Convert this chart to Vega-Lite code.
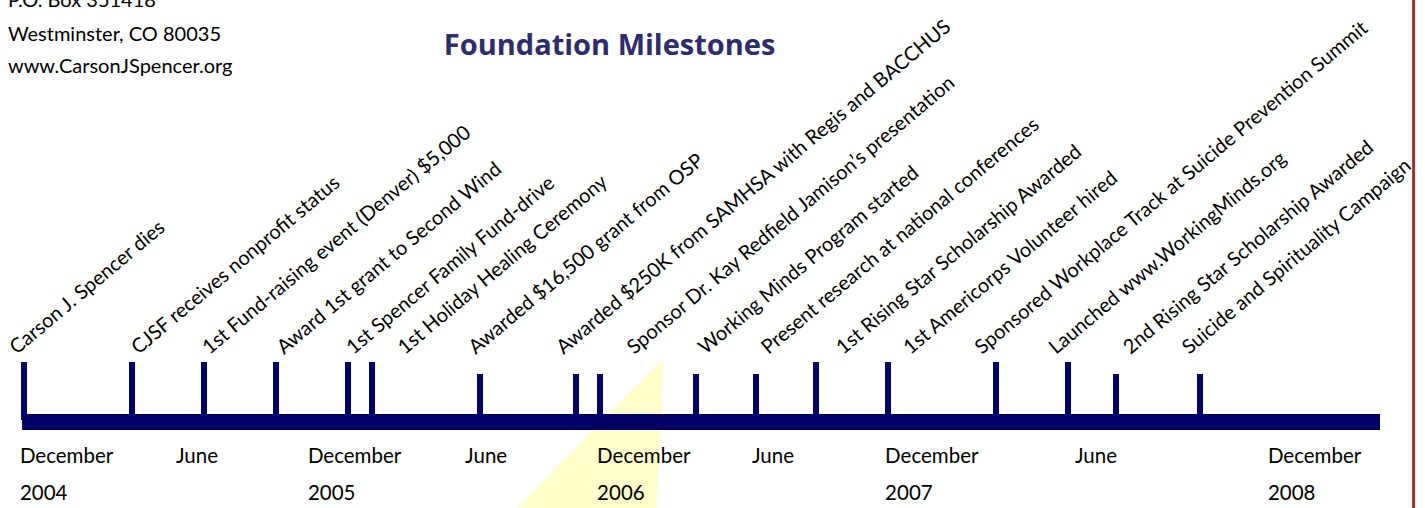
{
  "$schema": "https://vega.github.io/schema/vega-lite/v6.json",
  "width": 1425,
  "height": 508,
  "autosize": {"type": "none"},
  "padding": 0,
  "background": "white",
  "config": {"view": {"stroke": null}, "text": {"font": "Lato", "color": "#000000"}},
  "datasets": {
    "milestones": [
      {"m": 0, "labelMonth": -0.3, "label": "Carson J. Spencer dies", "tier": "tall"},
      {"m": 4.5, "labelMonth": 4.77, "label": "CJSF receives nonprofit status", "tier": "tall"},
      {"m": 7.5, "labelMonth": 7.73, "label": "1st Fund-raising event (Denver)  $5,000", "tier": "tall"},
      {"m": 10.5, "labelMonth": 10.83, "label": "Award 1st grant to Second Wind", "tier": "tall"},
      {"m": 13.5, "labelMonth": 13.73, "label": "1st Spencer Family Fund-drive", "tier": "tall"},
      {"m": 14.5, "labelMonth": 15.87, "label": "1st Holiday Healing Ceremony", "tier": "tall"},
      {"m": 19, "labelMonth": 18.82, "label": "Awarded $16,500 grant from OSP", "tier": "short"},
      {"m": 23, "labelMonth": 22.48, "label": "Awarded $250K from SAMHSA with Regis and BACCHUS", "tier": "short"},
      {"m": 24, "labelMonth": 25.43, "label": "Sponsor Dr. Kay Redfield Jamison’s presentation", "tier": "short"},
      {"m": 28, "labelMonth": 28.4, "label": "Working Minds Program started", "tier": "short"},
      {"m": 30.5, "labelMonth": 31.02, "label": "Present research at national conferences", "tier": "short"},
      {"m": 33, "labelMonth": 34.14, "label": "1st Rising Star Scholarship Awarded", "tier": "tall"},
      {"m": 36, "labelMonth": 36.94, "label": "1st Americorps Volunteer hired", "tier": "tall"},
      {"m": 40.5, "labelMonth": 39.92, "label": "Sponsored Workplace Track at  Suicide Prevention Summit", "tier": "tall"},
      {"m": 43.5, "labelMonth": 43.0, "label": "Launched www.WorkingMinds.org", "tier": "tall"},
      {"m": 45.5, "labelMonth": 46.1, "label": "2nd Rising Star Scholarship Awarded", "tier": "short"},
      {"m": 49, "labelMonth": 48.55, "label": "Suicide and Spirituality Campaign", "tier": "short"}
    ],
    "axisLabels": [
      {"p": -0.17, "mon": "December", "yr": "2004"},
      {"p": 6.33, "mon": "June", "yr": ""},
      {"p": 11.83, "mon": "December", "yr": "2005"},
      {"p": 18.38, "mon": "June", "yr": ""},
      {"p": 23.88, "mon": "December", "yr": "2006"},
      {"p": 30.33, "mon": "June", "yr": ""},
      {"p": 35.88, "mon": "December", "yr": "2007"},
      {"p": 43.79, "mon": "June", "yr": ""},
      {"p": 51.83, "mon": "December", "yr": "2008"}
    ],
    "beam": [
      {"y": 51, "xl": 26.45, "xr": 26.65},
      {"y": -94, "xl": 20.55, "xr": 26.35}
    ]
  },
  "layer": [
    {
      "data": {"name": "beam"},
      "mark": {"type": "area", "orient": "horizontal", "color": "#ffffcc"},
      "encoding": {
        "y": {"field": "y", "type": "quantitative", "scale": {"domain": [-94, 414], "nice": false, "zero": false}, "axis": null},
        "x": {"field": "xl", "type": "quantitative", "scale": {"domain": [-1, 58.375], "nice": false, "zero": false}, "axis": null},
        "x2": {"field": "xr"}
      }
    },
    {
      "data": {"values": [{}]},
      "mark": {"type": "rect", "color": "#000066"},
      "encoding": {
        "x": {"datum": -0.08, "type": "quantitative", "scale": {"domain": [-1, 58.375], "nice": false, "zero": false}, "axis": null},
        "x2": {"datum": 56.5},
        "y": {"datum": 0, "type": "quantitative", "scale": {"domain": [-94, 414], "nice": false, "zero": false}, "axis": null},
        "y2": {"datum": -16}
      }
    },
    {
      "data": {"name": "milestones"},
      "transform": [{"filter": "datum.tier === 'tall'"}],
      "mark": {"type": "rule", "color": "#000066", "strokeWidth": 6},
      "encoding": {
        "x": {"field": "m", "type": "quantitative", "scale": {"domain": [-1, 58.375], "nice": false, "zero": false}, "axis": null},
        "y": {"datum": 52, "type": "quantitative", "scale": {"domain": [-94, 414], "nice": false, "zero": false}, "axis": null},
        "y2": {"datum": -6}
      }
    },
    {
      "data": {"name": "milestones"},
      "transform": [{"filter": "datum.tier === 'short'"}],
      "mark": {"type": "rule", "color": "#000066", "strokeWidth": 6},
      "encoding": {
        "x": {"field": "m", "type": "quantitative", "scale": {"domain": [-1, 58.375], "nice": false, "zero": false}, "axis": null},
        "y": {"datum": 40, "type": "quantitative", "scale": {"domain": [-94, 414], "nice": false, "zero": false}, "axis": null},
        "y2": {"datum": -6}
      }
    },
    {
      "data": {"name": "milestones"},
      "mark": {"type": "text", "align": "left", "baseline": "alphabetic", "angle": -40, "fontSize": 20},
      "encoding": {
        "x": {"field": "labelMonth", "type": "quantitative", "scale": {"domain": [-1, 58.375], "nice": false, "zero": false}, "axis": null},
        "y": {"datum": 59, "type": "quantitative", "scale": {"domain": [-94, 414], "nice": false, "zero": false}, "axis": null},
        "text": {"field": "label"}
      }
    },
    {
      "data": {"name": "axisLabels"},
      "mark": {"type": "text", "align": "left", "baseline": "alphabetic", "fontSize": 20.5},
      "encoding": {
        "x": {"field": "p", "type": "quantitative", "scale": {"domain": [-1, 58.375], "nice": false, "zero": false}, "axis": null},
        "y": {"datum": -49, "type": "quantitative", "scale": {"domain": [-94, 414], "nice": false, "zero": false}, "axis": null},
        "text": {"field": "mon"}
      }
    },
    {
      "data": {"name": "axisLabels"},
      "mark": {"type": "text", "align": "left", "baseline": "alphabetic", "fontSize": 20.5},
      "encoding": {
        "x": {"field": "p", "type": "quantitative", "scale": {"domain": [-1, 58.375], "nice": false, "zero": false}, "axis": null},
        "y": {"datum": -86, "type": "quantitative", "scale": {"domain": [-94, 414], "nice": false, "zero": false}, "axis": null},
        "text": {"field": "yr"}
      }
    },
    {
      "data": {"values": [{}]},
      "mark": {"type": "text", "align": "center", "baseline": "alphabetic", "fontSize": 29, "fontWeight": "bold", "font": "Open Sans", "color": "#2d2d6e"},
      "encoding": {
        "x": {"datum": 24.4, "type": "quantitative", "scale": {"domain": [-1, 58.375], "nice": false, "zero": false}, "axis": null},
        "y": {"datum": 359, "type": "quantitative", "scale": {"domain": [-94, 414], "nice": false, "zero": false}, "axis": null},
        "text": {"value": "Foundation Milestones"}
      }
    },
    {
      "data": {"values": [{}]},
      "mark": {"type": "text", "align": "left", "baseline": "alphabetic", "fontSize": 20},
      "encoding": {
        "x": {"datum": -0.67, "type": "quantitative", "scale": {"domain": [-1, 58.375], "nice": false, "zero": false}, "axis": null},
        "y": {"datum": 407, "type": "quantitative", "scale": {"domain": [-94, 414], "nice": false, "zero": false}, "axis": null},
        "text": {"value": "P.O. Box 351418"}
      }
    },
    {
      "data": {"values": [{}]},
      "mark": {"type": "text", "align": "left", "baseline": "alphabetic", "fontSize": 20},
      "encoding": {
        "x": {"datum": -0.67, "type": "quantitative", "scale": {"domain": [-1, 58.375], "nice": false, "zero": false}, "axis": null},
        "y": {"datum": 373.5, "type": "quantitative", "scale": {"domain": [-94, 414], "nice": false, "zero": false}, "axis": null},
        "text": {"value": "Westminster, CO 80035"}
      }
    },
    {
      "data": {"values": [{}]},
      "mark": {"type": "text", "align": "left", "baseline": "alphabetic", "fontSize": 20},
      "encoding": {
        "x": {"datum": -0.67, "type": "quantitative", "scale": {"domain": [-1, 58.375], "nice": false, "zero": false}, "axis": null},
        "y": {"datum": 341, "type": "quantitative", "scale": {"domain": [-94, 414], "nice": false, "zero": false}, "axis": null},
        "text": {"value": "www.CarsonJSpencer.org"}
      }
    },
    {
      "data": {"values": [{}]},
      "mark": {"type": "rule", "color": "#993333", "strokeWidth": 3},
      "encoding": {
        "x": {"datum": 57.9, "type": "quantitative", "scale": {"domain": [-1, 58.375], "nice": false, "zero": false}, "axis": null},
        "y": {"datum": -94, "type": "quantitative", "scale": {"domain": [-94, 414], "nice": false, "zero": false}, "axis": null},
        "y2": {"datum": 414}
      }
    }
  ]
}
